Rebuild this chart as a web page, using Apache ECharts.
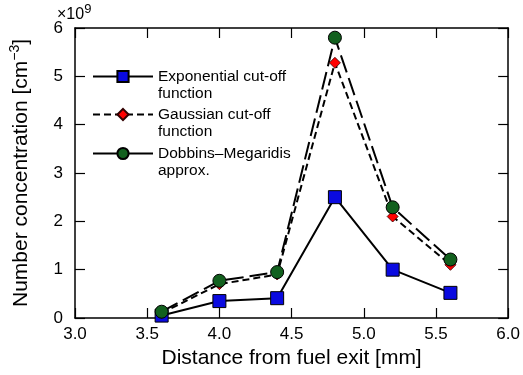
<!DOCTYPE html>
<html>
<head>
<meta charset="utf-8">
<script src="https://cdn.jsdelivr.net/npm/echarts@6/dist/echarts.min.js"></script>
<style>
  html, body {margin: 0; padding: 0; background: #fff;}
  #chart {width: 523px; height: 375px;}
</style>
</head>
<body>
<div id="chart"></div>
<script>
const FONT = '"Liberation Sans", Arial, sans-serif'

// distance from fuel exit [mm]
const distances = [3.6, 4.0, 4.4, 4.8, 5.2, 5.6]
// number concentration, units of 1e9 cm^-3
const exponentialVals = [0.05, 0.35, 0.41, 2.5, 1.0, 0.52]
const gaussianVals = [0.1, 0.7, 0.9, 5.28, 2.1, 1.1]
const dobbinsVals = [0.13, 0.77, 0.95, 5.8, 2.29, 1.21]

const seriesNames = [
  'Exponential cut-off\nfunction',
  'Gaussian cut-off\nfunction',
  'Dobbins\u2013Megaridis\napprox.'
]

const pairs = (xs, ys) => xs.map((x, i) => [x, ys[i]])

const chart = echarts.init(document.getElementById('chart'))

const tickStyle = {inside: true, length: 10, lineStyle: {color: '#000', width: 1.2}}
const axisLineStyle = {show: true, onZero: false, lineStyle: {color: '#000', width: 1.5}}

// blank first line so the icon sits on the first line of the label
const legendAt = (name, top, lineType) => ({
  data: [name],
  left: 92,
  top: top,
  orient: 'vertical',
  padding: 0,
  itemGap: 0,
  itemWidth: 60,
  itemHeight: 14,
  selectedMode: false,
  formatter: n => '\n' + n,
  lineStyle: lineType ? {type: lineType} : {},
  textStyle: {fontFamily: FONT, fontSize: 15.5, color: '#000', lineHeight: 17}
})

chart.setOption({
  animation: false,
  backgroundColor: '#fff',
  textStyle: {fontFamily: FONT},
  grid: {left: 69, right: 14, top: 28, bottom: 57},
  legend: [
    legendAt(seriesNames[0], 51),
    legendAt(seriesNames[1], 89),
    legendAt(seriesNames[2], 128, 'solid')
  ],
  graphic: [{
    type: 'text',
    left: 57,
    top: 3,
    style: {
      text: '\u00d710{s|9}',
      font: '16px ' + FONT,
      fill: '#000',
      lineHeight: 24,
      rich: {s: {fontSize: 13, verticalAlign: 'top', fontFamily: FONT, fill: '#000'}}
    }
  }],
  xAxis: [{
    type: 'value',
    min: 3, max: 6, interval: 0.5,
    name: 'Distance from fuel exit [mm]',
    nameLocation: 'middle',
    nameGap: 30,
    nameTextStyle: {fontSize: 21, color: '#000', fontFamily: FONT},
    axisLine: axisLineStyle,
    axisTick: tickStyle,
    splitLine: {show: false},
    axisLabel: {fontSize: 17, color: '#000', margin: 8, formatter: v => v.toFixed(1)}
  }, {
    type: 'value',
    position: 'top',
    min: 3, max: 6, interval: 0.5,
    axisLine: axisLineStyle,
    axisTick: tickStyle,
    splitLine: {show: false},
    axisLabel: {show: false}
  }],
  yAxis: [{
    type: 'value',
    min: 0, max: 6, interval: 1,
    name: 'Number concentration [cm{sup|\u22123}]',
    nameLocation: 'middle',
    nameGap: 40,
    nameTextStyle: {
      fontSize: 21, color: '#000', fontFamily: FONT, lineHeight: 27,
      rich: {sup: {fontSize: 14, verticalAlign: 'top', color: '#000', fontFamily: FONT}}
    },
    axisLine: axisLineStyle,
    axisTick: tickStyle,
    splitLine: {show: false},
    axisLabel: {fontSize: 17, color: '#000', margin: 12}
  }, {
    type: 'value',
    position: 'right',
    min: 0, max: 6, interval: 1,
    axisLine: axisLineStyle,
    axisTick: tickStyle,
    splitLine: {show: false},
    axisLabel: {show: false}
  }],
  series: [{
    name: seriesNames[0],
    type: 'line',
    data: pairs(distances, exponentialVals),
    symbol: 'rect',
    symbolSize: 13,
    lineStyle: {color: '#000', width: 2},
    itemStyle: {color: '#0a0ae0', borderColor: '#000', borderWidth: 1}
  }, {
    name: seriesNames[1],
    type: 'line',
    data: pairs(distances, gaussianVals),
    symbol: 'diamond',
    symbolSize: 11,
    lineStyle: {color: '#000', width: 2, type: [7, 4]},
    itemStyle: {color: '#ff0000', borderColor: '#300', borderWidth: 0.8}
  }, {
    name: seriesNames[2],
    type: 'line',
    data: pairs(distances, dobbinsVals),
    symbol: 'circle',
    symbolSize: 13,
    lineStyle: {color: '#000', width: 2, type: [18, 6]},
    itemStyle: {color: '#12601e', borderColor: '#000', borderWidth: 1}
  }]
})
</script>
</body>
</html>
